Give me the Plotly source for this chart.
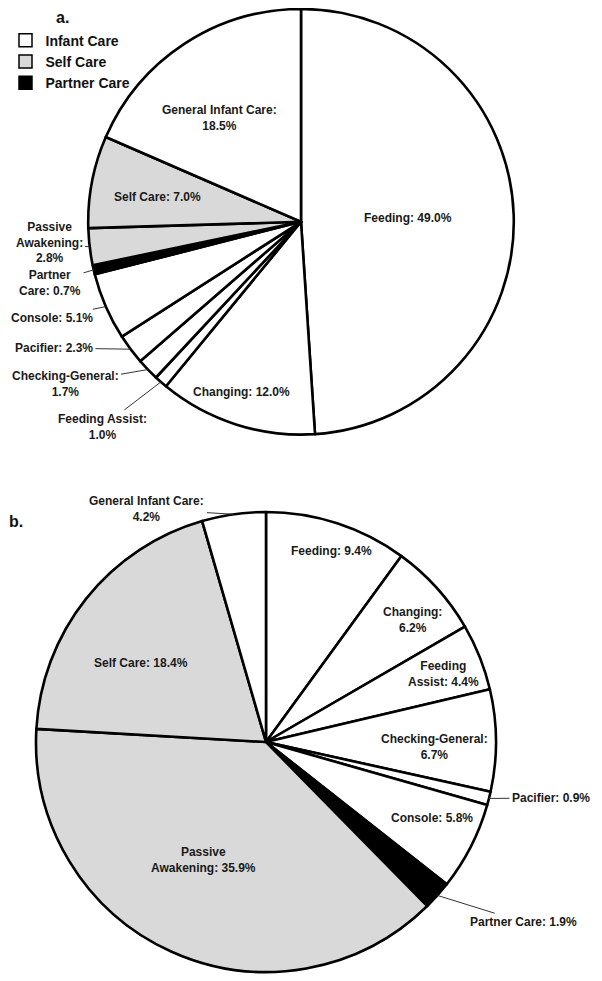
import math
import plotly.graph_objects as go

# ---------------- data ----------------
categories = ["Feeding", "Changing", "Feeding Assist", "Checking-General", "Pacifier",
              "Console", "Partner Care", "Passive Awakening", "Self Care", "General Infant Care"]
care_type = ["Infant Care", "Infant Care", "Infant Care", "Infant Care", "Infant Care",
             "Infant Care", "Partner Care", "Self Care", "Self Care", "Infant Care"]
values_a = [49.0, 12.0, 1.0, 1.7, 2.3, 5.1, 0.7, 2.8, 7.0, 18.5]
values_b = [9.4, 6.2, 4.4, 6.7, 0.9, 5.8, 1.9, 35.9, 18.4, 4.2]
legend_labels = ["Infant Care", "Self Care", "Partner Care"]

# ---------------- layout / style ----------------
PAGE_W, PAGE_H = 602, 981
OFF = 8                      # default page body margin of the html page
W, H = PAGE_W - OFF, PAGE_H - OFF
type_colors = {"Infant Care": "#ffffff", "Self Care": "#d9d9d9", "Partner Care": "#000000"}
FONT = "Liberation Sans, Arial, sans-serif"
TEXT_COLOR = "#1a1a1a"

# label text templates (line breaks) and page-pixel positions of label centres
label_cfg_a = {
    "Feeding":            ("Feeding: {v}%",               (408, 218), False),
    "Changing":           ("Changing: {v}%",              (241, 392), False),
    "Feeding Assist":     ("Feeding Assist:<br>{v}%",     (102, 427), True),
    "Checking-General":   ("Checking-General:<br>{v}%",   (65, 384), True),
    "Pacifier":           ("Pacifier: {v}%",              (54, 348), True),
    "Console":            ("Console: {v}%",               (52, 318), True),
    "Partner Care":       ("Partner<br>Care: {v}%",       (50, 283), True),
    "Passive Awakening":  ("Passive<br>Awakening:<br>{v}%", (49, 243), True),
    "Self Care":          ("Self Care: {v}%",             (157, 197), False),
    "General Infant Care": ("General Infant Care:<br>{v}%", (219, 118), False),
}
label_cfg_b = {
    "Feeding":            ("Feeding: {v}%",               (331, 551), False),
    "Changing":           ("Changing:<br>{v}%",           (412, 620), False),
    "Feeding Assist":     ("Feeding<br>Assist: {v}%",     (443, 674), False),
    "Checking-General":   ("Checking-General:<br>{v}%",   (434, 747), False),
    "Pacifier":           ("Pacifier: {v}%",              (551, 798), True),
    "Console":            ("Console: {v}%",               (432, 818), False),
    "Partner Care":       ("Partner Care: {v}%",          (523, 922), True),
    "Passive Awakening":  ("Passive<br>Awakening: {v}%",  (203, 860), False),
    "Self Care":          ("Self Care: {v}%",             (141, 663), False),
    "General Infant Care": ("General Infant Care:<br>{v}%", (147, 509), True),
}

pies = [
    dict(name="a", values=values_a, cx=301, cy=221.8, r=212.8, cfg=label_cfg_a,
         tag_pos=(62, 17.5)),
    dict(name="b", values=values_b, cx=266, cy=742, r=230, cfg=label_cfg_b,
         tag_pos=(16, 521)),
]


def px(x, y):
    """page pixel -> paper coordinates"""
    return (x - OFF) / W, 1 - (y - OFF) / H


fig = go.Figure()
annotations = []

for p in pies:
    cx, cy, r = p["cx"], p["cy"], p["r"]
    x0, y1 = px(cx - r, cy - r)
    x1, y0 = px(cx + r, cy + r)
    fig.add_trace(go.Pie(
        labels=categories,
        values=p["values"],
        sort=False,
        direction="clockwise",
        rotation=0,
        textinfo="none",
        hovertemplate="%{label}: %{value}%<extra></extra>",
        marker=dict(colors=[type_colors[t] for t in care_type],
                    line=dict(color="#000000", width=2.6)),
        domain=dict(x=[max(0, x0), min(1, x1)], y=[max(0, y0), min(1, y1)]),
        showlegend=False,
        name=p["name"],
    ))

    total = sum(p["values"])
    cum = 0.0
    for cat, v in zip(categories, p["values"]):
        mid = (cum + v / 2) / total * 2 * math.pi
        cum += v
        tmpl, (lx, ly), leader = p["cfg"][cat]
        text = tmpl.format(v=f"{v:.1f}")
        if leader:
            tx = cx + r * math.sin(mid)
            ty = cy - r * math.cos(mid)
            ax_, ay_ = px(tx, ty)
            annotations.append(dict(
                x=ax_, y=ay_, xref="paper", yref="paper",
                ax=lx - tx, ay=ly - ty, axref="pixel", ayref="pixel",
                text=text, showarrow=True, arrowhead=0, arrowwidth=1,
                arrowcolor="#333333", standoff=0, startstandoff=1,
                font=dict(family=FONT, size=12, color=TEXT_COLOR, weight="bold"),
                align="center",
            ))
        else:
            xx, yy = px(lx, ly)
            annotations.append(dict(
                x=xx, y=yy, xref="paper", yref="paper", showarrow=False,
                text=text, xanchor="center", yanchor="middle",
                font=dict(family=FONT, size=12, color=TEXT_COLOR, weight="bold"),
                align="center",
            ))
    tx, ty = px(*p["tag_pos"])
    annotations.append(dict(
        x=tx, y=ty, xref="paper", yref="paper", showarrow=False,
        text=p["name"] + ".", xanchor="center", yanchor="middle",
        font=dict(family=FONT, size=16, color="#111111", weight="bold"),
    ))

# legend entries (care type)
for lab in legend_labels:
    fig.add_trace(go.Scatter(
        x=[None], y=[None], mode="markers", name=lab,
        marker=dict(symbol="square", size=13, color=type_colors[lab],
                    line=dict(color="#000000", width=1.5)),
        showlegend=True, hoverinfo="skip",
    ))

lgx, lgy = px(5.5, 24.7)
fig.update_layout(
    width=W, height=H,
    margin=dict(l=0, r=0, t=0, b=0, autoexpand=False),
    paper_bgcolor="#ffffff", plot_bgcolor="#ffffff",
    xaxis=dict(visible=False), yaxis=dict(visible=False),
    showlegend=True,
    legend=dict(x=lgx, y=lgy, xanchor="left", yanchor="top",
                bgcolor="rgba(0,0,0,0)", borderwidth=0,
                font=dict(family=FONT, size=14, color="#111111", weight="bold"),
                itemclick=False, itemdoubleclick=False, tracegroupgap=0),
    annotations=annotations,
)

fig.write_html("out.html")
